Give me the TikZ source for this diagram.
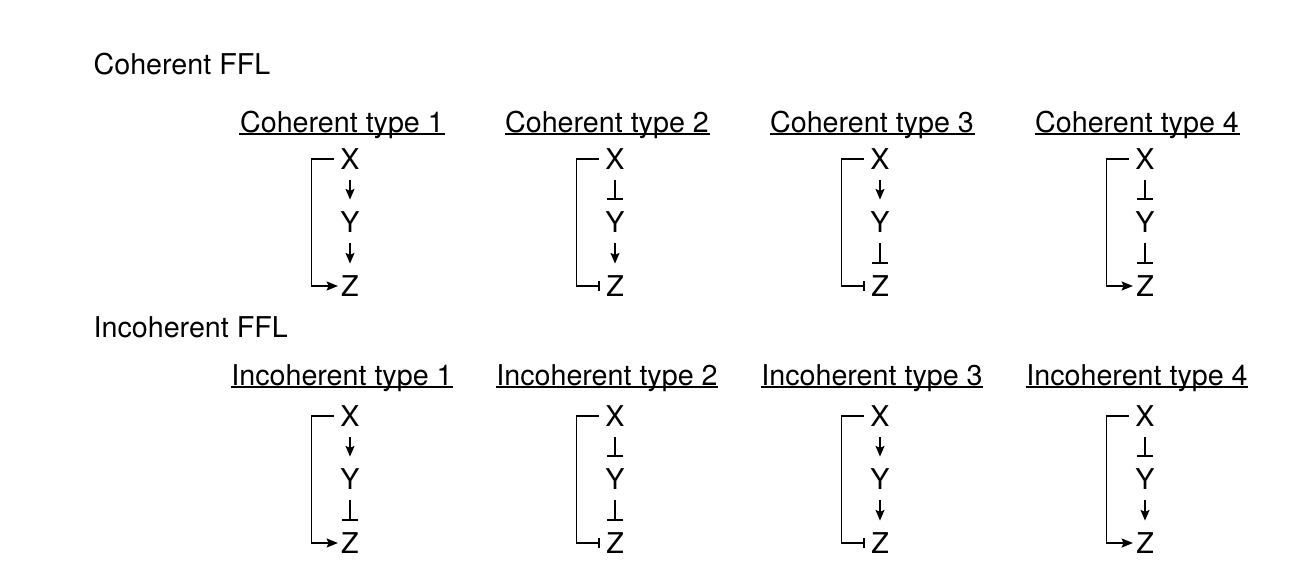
\documentclass[tikz,border=0pt]{standalone}
\usepackage{fontspec}
\setmainfont{TeX Gyre Heros}
\usetikzlibrary{arrows.meta}
\tikzset{
  lbl/.style={font=\fontsize{21.5}{26}\selectfont, inner sep=0pt},
  act/.style={-{Stealth[length=8pt,width=6.8pt,inset=1.5pt]}},
  inh/.style={-{Bar[width=12pt]}},
  vgap/.style={shorten <=7.5pt, shorten >=8.5pt},
  bact/.style={-{Stealth[length=8.5pt,width=6.8pt,inset=1.5pt]}, shorten >=2pt},
  binh/.style={-{Bar[width=7.5pt]}, shorten >=4.5pt},
  uline/.style={line width=1.1pt}
}
% #1 prefix, #2 x of X, #3 title baseline, #4 y of X, #5 title, #6 X-Y, #7 Y-Z, #8 X-Z
\newcommand\fflmotif[8]{%
  \node[lbl, anchor=base] (#1t) at (#2-8,#3) {#5};
  \draw[uline] ([yshift=-1.6pt]#1t.base west) -- ([yshift=-1.6pt]#1t.base east);
  \node[lbl] (#1X) at (#2,#4) {X};
  \node[lbl] (#1Y) at (#2,#4+63) {Y};
  \node[lbl] (#1Z) at (#2,#4+127) {Z};
  \draw[#6, vgap] (#1X.south) -- (#1Y.north);
  \draw[#7, vgap] (#1Y.south) -- (#1Z.north);
  \draw[#8] ([xshift=-4.5pt]#1X.west) -- ([xshift=-21pt]#1X.west) |- (#1Z.west);
}
\begin{document}
\begin{tikzpicture}[x=0.75pt,y=-0.75pt,line width=1pt]
\fill[white] (0,0) rectangle (1302,586);
\useasboundingbox (0,0) rectangle (1302,586);
\node[lbl, anchor=base west] (cffl) at (93,74) {Coherent FFL};
\node[lbl, anchor=base west] (iffl) at (93,337) {Incoherent FFL};
\fflmotif{ca}{350}{132}{159}{Coherent type 1}{act}{act}{bact}
\fflmotif{cb}{615}{132}{159}{Coherent type 2}{inh}{act}{binh}
\fflmotif{cc}{880}{132}{159}{Coherent type 3}{act}{inh}{binh}
\fflmotif{cd}{1145}{132}{159}{Coherent type 4}{inh}{inh}{bact}
\fflmotif{ia}{350}{385}{416}{Incoherent type 1}{act}{inh}{bact}
\fflmotif{ib}{615}{385}{416}{Incoherent type 2}{inh}{inh}{binh}
\fflmotif{ic}{880}{385}{416}{Incoherent type 3}{act}{act}{binh}
\fflmotif{id}{1145}{385}{416}{Incoherent type 4}{inh}{act}{bact}
\end{tikzpicture}
\end{document}
